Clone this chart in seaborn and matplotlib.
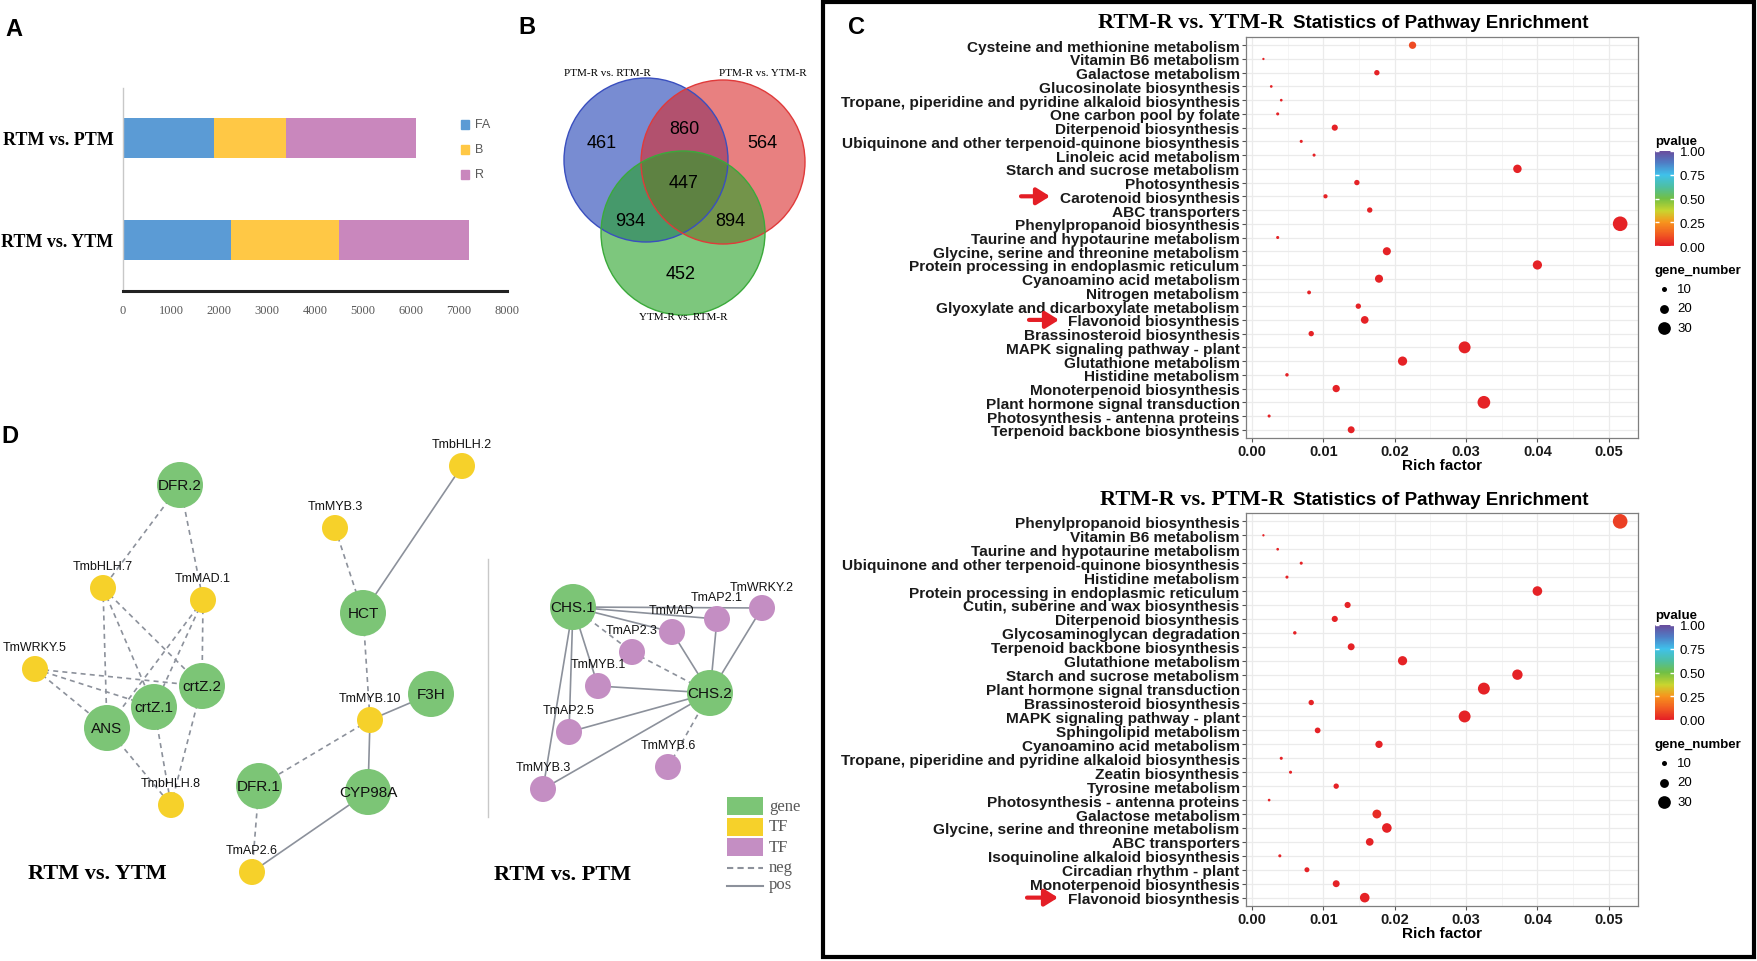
import numpy as np
import pandas as pd
import matplotlib
matplotlib.use("Agg")
import matplotlib.pyplot as plt
import matplotlib.transforms as mtransforms
import seaborn as sns
from matplotlib.colors import LinearSegmentedColormap, Normalize
from matplotlib.cm import ScalarMappable
from matplotlib.patches import Circle, Rectangle

W, H = 1758, 962
SANS = ["Liberation Sans", "DejaVu Sans"]
SERIF = ["Liberation Serif", "DejaVu Serif"]

# ---------------- panel A data
a_groups = ["RTM vs. PTM", "RTM vs. YTM"]
a_parts = ["FA", "B", "R"]
a_fa = [1900, 2250]
a_b = [1500, 2250]
a_r = [2700, 2700]
a_colors = ["#5B9BD5", "#FFC845", "#C987BD"]

# ---------------- panel B data
venn_sets = ["PTM-R vs. RTM-R", "PTM-R vs. YTM-R", "YTM-R vs. RTM-R"]
venn_only = [461, 564, 452]
venn_pair = [860, 934, 894]   # blue&red, blue&green, red&green
venn_all = 447

# ---------------- panel C data
top_paths = ["Cysteine and methionine metabolism", "Vitamin B6 metabolism", "Galactose metabolism",
             "Glucosinolate biosynthesis", "Tropane, piperidine and pyridine alkaloid biosynthesis",
             "One carbon pool by folate", "Diterpenoid biosynthesis",
             "Ubiquinone and other terpenoid-quinone biosynthesis", "Linoleic acid metabolism",
             "Starch and sucrose metabolism", "Photosynthesis", "Carotenoid biosynthesis",
             "ABC transporters", "Phenylpropanoid biosynthesis", "Taurine and hypotaurine metabolism",
             "Glycine, serine and threonine metabolism", "Protein processing in endoplasmic reticulum",
             "Cyanoamino acid metabolism", "Nitrogen metabolism", "Glyoxylate and dicarboxylate metabolism",
             "Flavonoid biosynthesis", "Brassinosteroid biosynthesis", "MAPK signaling pathway - plant",
             "Glutathione metabolism", "Histidine metabolism", "Monoterpenoid biosynthesis",
             "Plant hormone signal transduction", "Photosynthesis - antenna proteins",
             "Terpenoid backbone biosynthesis"]
top_rich = [0.0225, 0.0016, 0.0175, 0.0027, 0.0041, 0.0036, 0.0116, 0.0069, 0.0087, 0.0372,
            0.0147, 0.0103, 0.0165, 0.0516, 0.0036, 0.0189, 0.0400, 0.0178, 0.0080, 0.0149,
            0.0158, 0.0083, 0.0298, 0.0211, 0.0049, 0.0118, 0.0325, 0.0024, 0.0139]
top_genes = [16, 3, 11, 4, 4, 5, 13, 5, 5, 19, 11, 8, 11, 35, 5, 18, 21, 18, 7, 11,
             17, 11, 28, 21, 6, 16, 30, 5, 15]
top_p = [0.09] + [0.01] * 28

bot_paths = ["Phenylpropanoid biosynthesis", "Vitamin B6 metabolism", "Taurine and hypotaurine metabolism",
             "Ubiquinone and other terpenoid-quinone biosynthesis", "Histidine metabolism",
             "Protein processing in endoplasmic reticulum", "Cutin, suberine and wax biosynthesis",
             "Diterpenoid biosynthesis", "Glycosaminoglycan degradation", "Terpenoid backbone biosynthesis",
             "Glutathione metabolism", "Starch and sucrose metabolism", "Plant hormone signal transduction",
             "Brassinosteroid biosynthesis", "MAPK signaling pathway - plant", "Sphingolipid metabolism",
             "Cyanoamino acid metabolism", "Tropane, piperidine and pyridine alkaloid biosynthesis",
             "Zeatin biosynthesis", "Tyrosine metabolism", "Photosynthesis - antenna proteins",
             "Galactose metabolism", "Glycine, serine and threonine metabolism", "ABC transporters",
             "Isoquinoline alkaloid biosynthesis", "Circadian rhythm - plant", "Monoterpenoid biosynthesis",
             "Flavonoid biosynthesis"]
bot_rich = [0.0516, 0.0016, 0.0036, 0.0069, 0.0049, 0.0400, 0.0134, 0.0116, 0.0060, 0.0139,
            0.0211, 0.0372, 0.0325, 0.0083, 0.0298, 0.0092, 0.0178, 0.0041, 0.0054, 0.0118,
            0.0024, 0.0175, 0.0189, 0.0165, 0.0039, 0.0077, 0.0118, 0.0158]
bot_genes = [35, 3, 4, 5, 5, 22, 13, 13, 6, 15, 21, 24, 28, 11, 28, 12, 16, 5, 5, 11,
             4, 20, 22, 17, 5, 10, 15, 22]
bot_p = [0.07] + [0.01] * 20 + [0.03] + [0.01] * 6

# ---------------- panel D data (network layout)
node_names = ["DFR.2", "TmbHLH.7", "TmMAD.1", "TmWRKY.5", "crtZ.2", "crtZ.1", "ANS", "TmbHLH.8",
              "TmMYB.3", "HCT", "TmbHLH.2", "TmMYB.10", "F3H", "DFR.1", "CYP98A", "TmAP2.6",
              "CHS.1", "CHS.2", "TmMAD", "TmAP2.1", "TmWRKY.2", "TmAP2.3", "TmMYB.1", "TmAP2.5",
              "TmMYB.6", "TmMYB.3b"]
node_kind = ["gene", "tf", "tf", "tf", "gene", "gene", "gene", "tf",
             "tf", "gene", "tf", "tf", "gene", "gene", "gene", "tf",
             "gene", "gene", "tf2", "tf2", "tf2", "tf2", "tf2", "tf2", "tf2", "tf2"]
node_x = [180, 103, 203, 35, 202, 154, 107, 171, 335, 363, 462, 370, 431, 259, 368, 252,
          573, 710, 672, 717, 762, 632, 598, 569, 668, 543]
node_y = [486, 589, 601, 670, 687, 708, 729, 806, 529, 614, 467, 721, 695, 787, 793, 873,
          608, 694, 633, 620, 609, 653, 687, 733, 768, 790]
edges = [("DFR.2", "TmbHLH.7", "neg"), ("DFR.2", "TmMAD.1", "neg"), ("TmbHLH.7", "ANS", "neg"),
         ("TmbHLH.7", "crtZ.1", "neg"), ("TmbHLH.7", "crtZ.2", "neg"), ("TmMAD.1", "crtZ.2", "neg"),
         ("TmMAD.1", "ANS", "neg"), ("TmMAD.1", "crtZ.1", "neg"), ("TmWRKY.5", "crtZ.2", "neg"),
         ("TmWRKY.5", "crtZ.1", "neg"), ("TmWRKY.5", "ANS", "neg"), ("ANS", "TmbHLH.8", "neg"),
         ("crtZ.1", "TmbHLH.8", "neg"), ("crtZ.2", "TmbHLH.8", "neg"),
         ("TmMYB.3", "HCT", "neg"), ("HCT", "TmbHLH.2", "pos"), ("HCT", "TmMYB.10", "neg"),
         ("TmMYB.10", "F3H", "pos"), ("TmMYB.10", "CYP98A", "pos"), ("TmMYB.10", "DFR.1", "neg"),
         ("DFR.1", "TmAP2.6", "neg"), ("CYP98A", "TmAP2.6", "pos"),
         ("CHS.1", "TmAP2.1", "pos"), ("CHS.1", "TmWRKY.2", "pos"), ("CHS.1", "TmMAD", "pos"),
         ("CHS.1", "TmAP2.3", "neg"), ("CHS.1", "TmMYB.1", "pos"), ("CHS.1", "TmAP2.5", "pos"),
         ("CHS.1", "TmMYB.3b", "pos"), ("TmAP2.3", "CHS.2", "neg"), ("TmMAD", "CHS.2", "pos"),
         ("TmAP2.1", "CHS.2", "pos"), ("TmWRKY.2", "CHS.2", "pos"), ("TmMYB.1", "CHS.2", "pos"),
         ("TmAP2.5", "CHS.2", "pos"), ("TmMYB.3b", "CHS.2", "pos"), ("TmMYB.6", "CHS.2", "neg")]
kind_colors = {"gene": "#7CC576", "tf": "#F6D12A", "tf2": "#C48EC3"}

plt.rcParams["font.family"] = SANS

fig = plt.figure(figsize=(W / 100, H / 100), dpi=100)
ov = fig.add_axes([0, 0, 1, 1])
ov.set_xlim(0, W)
ov.set_ylim(H, 0)
ov.axis("off")


def px_axes(l, t, r, b):
    return fig.add_axes([l / W, 1 - b / H, (r - l) / W, (b - t) / H])


for lab, x, y in [("A", 14, 30), ("B", 527, 28), ("C", 857, 27), ("D", 10, 437)]:
    ov.text(x, y, lab, fontsize=17, fontweight="bold", ha="center", va="center")

# ================= A: stacked bars
axA = px_axes(123, 89, 507, 292)
ypos = np.arange(len(a_groups))
left = np.zeros(len(a_groups))
for vals, col in zip([a_fa, a_b, a_r], a_colors):
    axA.barh(ypos, vals, left=left, height=0.39, color=col, linewidth=0)
    left = left + np.array(vals)
axA.set_xlim(0, 8000)
axA.set_ylim(1.5, -0.49)
xt = np.arange(0, 8001, 1000)
axA.set_xticks(xt)
axA.set_xticklabels([str(v) for v in xt], family=SERIF, fontsize=9, color="#595959")
axA.set_yticks(ypos)
axA.set_yticklabels(a_groups, family=SERIF, fontsize=13, fontweight="bold")
axA.tick_params(length=0)
axA.tick_params(axis="x", pad=9)
axA.tick_params(axis="y", pad=7)
for s in ["top", "right"]:
    axA.spines[s].set_visible(False)
axA.spines["left"].set_color("#C8C8C8")
axA.spines["left"].set_linewidth(1)
axA.spines["bottom"].set_linewidth(2.2)
axA.spines["bottom"].set_color("#222222")
axA.patch.set_alpha(0)
for i, (name, col) in enumerate(zip(a_parts, a_colors)):
    y = 125 + i * 25
    ov.add_patch(Rectangle((461, y - 4.5), 8, 9, color=col))
    ov.text(475, y, name, fontsize=9, color="#595959", va="center")

# ================= B: venn
centers = [(646, 161), (723, 163), (683, 234)]
rad = 82
fills = ["#1E3FB4", "#D92B2B", "#26A326"]
edgec = ["#3A4FBF", "#E03A3A", "#3BAA3B"]
for (cx, cy), fc in zip(centers, fills):
    ov.add_patch(Circle((cx, cy), rad, facecolor=fc, alpha=0.6, edgecolor="none"))
for (cx, cy), ec in zip(centers, edgec):
    ov.add_patch(Circle((cx, cy), rad, facecolor="none", edgecolor=ec, lw=1))
num_pos_only = [(602, 143), (762, 143), (681, 275)]
num_pos_pair = [(684, 129), (630, 221), (730, 222)]
for v, (x, y) in zip(venn_only, num_pos_only):
    ov.text(x, y, str(v), fontsize=13, ha="center", va="center")
for v, (x, y) in zip(venn_pair, num_pos_pair):
    ov.text(x, y, str(v), fontsize=13, ha="center", va="center")
ov.text(684, 183, str(venn_all), fontsize=13, ha="center", va="center")
for name, (x, y) in zip(venn_sets, [(607, 73), (763, 74), (683, 318)]):
    ov.text(x, y, name, family=SERIF, fontsize=8, ha="center", va="center")

# ================= C: enrichment dot plots
ov.add_patch(Rectangle((823, 3), 931, 955, facecolor="none", edgecolor="black", lw=3))

p_cmap = LinearSegmentedColormap.from_list(
    "pv", [(0, "#E41E26"), (0.12, "#F15A22"), (0.25, "#F7941D"), (0.37, "#C9D52F"),
           (0.5, "#72BF44"), (0.62, "#4EBFA0"), (0.75, "#3FC1EB"), (0.88, "#4F7CC4"),
           (1.0, "#6A4C9C")])


def diam(v):
    return max(2.3, 5 + 0.385 * (v - 10))


all_genes = sorted(set(top_genes) | set(bot_genes) | {10, 20, 30})
size_map = {v: (diam(v) * 0.72) ** 2 for v in all_genes}


def dot_panel(box, names, rich, genes, pvals, base_y, title_left):
    ax = px_axes(*box)
    n = len(names)
    df = pd.DataFrame({"row": np.arange(n), "rich": rich, "genes": genes, "pvalue": pvals})
    sns.scatterplot(data=df, x="rich", y="row", hue="pvalue", size="genes", sizes=size_map,
                    palette=p_cmap, hue_norm=(0, 1), linewidth=0, legend=False, ax=ax, zorder=3)
    ax.set_xlim(-0.00084, 0.0541)
    ax.set_ylim(n - 1 + 0.6, -0.6)
    major = [0, 0.01, 0.02, 0.03, 0.04, 0.05]
    ax.set_xticks(major)
    ax.set_xticks([0.005, 0.015, 0.025, 0.035, 0.045], minor=True)
    ax.set_xticklabels([f"{v:.2f}" for v in major], fontsize=10.5, fontweight="bold")
    ax.set_yticks(np.arange(n))
    ax.set_yticklabels(names, fontsize=11.1, fontweight="bold")
    ax.grid(which="major", color="#EBEBEB", lw=0.9)
    ax.grid(which="minor", axis="x", color="#F4F4F4", lw=0.6)
    ax.set_axisbelow(True)
    ax.tick_params(which="major", length=3, color="#555555", width=0.8, pad=1.5, labelcolor="#1A1A1A")
    ax.tick_params(which="minor", length=0)
    for sp in ax.spines.values():
        sp.set_color("#7F7F7F")
        sp.set_linewidth(0.9)
    ax.set_xlabel("Rich factor", fontsize=11, fontweight="bold", labelpad=0)
    ax.set_ylabel("")
    ov.text(1284, base_y, title_left, family=SERIF, fontweight="bold", fontsize=16,
            ha="right", va="baseline")
    ov.text(1293, base_y, "Statistics of Pathway Enrichment", fontsize=13.5, fontweight="bold",
            ha="left", va="baseline")
    return ax


def red_arrow(ax, row, x0, x1):
    trans = mtransforms.blended_transform_factory(ov.transData, ax.transData)
    ax.annotate("", xy=(x1, row), xytext=(x0, row), xycoords=trans, textcoords=trans,
                arrowprops=dict(arrowstyle="-|>,head_length=0.4,head_width=0.25", color="#E41E26",
                                lw=3, shrinkA=0, shrinkB=0, mutation_scale=20),
                annotation_clip=False)


def dot_legend(t):
    ov.text(1655, t, "pvalue", fontsize=9.5, fontweight="bold", va="center")
    cax = px_axes(1655, t + 10, 1674, t + 105)
    cb = fig.colorbar(ScalarMappable(norm=Normalize(0, 1), cmap=p_cmap), cax=cax)
    cb.set_ticks([0, 0.25, 0.5, 0.75, 1.0])
    cb.set_ticklabels(["0.00", "0.25", "0.50", "0.75", "1.00"])
    cb.outline.set_visible(False)
    cax.tick_params(direction="in", color="white", length=3, width=1, left=True, right=True,
                    labelleft=False, labelright=True, labelsize=9.5, pad=4)
    ov.text(1655, t + 129, "gene_number", fontsize=9.5, fontweight="bold", va="center")
    for k, v in enumerate([10, 20, 30]):
        yy = t + 148 + k * 19.5
        ov.scatter([1664], [yy], s=size_map[v], color="black", linewidth=0)
        ov.text(1677, yy, str(v), fontsize=9.5, va="center")


ax_top = dot_panel((1246, 38, 1638, 439), top_paths, top_rich, top_genes, top_p, 28, "RTM-R vs. YTM-R")
ax_bot = dot_panel((1246, 514, 1638, 907), bot_paths, bot_rich, bot_genes, bot_p, 505, "RTM-R vs. PTM-R")
red_arrow(ax_top, top_paths.index("Carotenoid biosynthesis"), 1021, 1050)
red_arrow(ax_top, top_paths.index("Flavonoid biosynthesis"), 1029, 1059)
red_arrow(ax_bot, bot_paths.index("Flavonoid biosynthesis"), 1027, 1058)
dot_legend(142)
dot_legend(616)

# ================= D: networks
pos = {n: (x, y) for n, x, y in zip(node_names, node_x, node_y)}
for a, b, sign in edges:
    (x0, y0), (x1, y1) = pos[a], pos[b]
    ls = (0, (3, 2.5)) if sign == "neg" else "-"
    ov.plot([x0, x1], [y0, y1], color="#8C919B", lw=1.2, ls=ls, zorder=2)
for n, k, x, y in zip(node_names, node_kind, node_x, node_y):
    r = 23 if k == "gene" else 13
    ov.add_patch(Circle((x, y), r, facecolor=kind_colors[k], edgecolor="none", zorder=3))
    label = n[:-1] if n.endswith("3b") else n
    if k == "gene":
        ov.text(x, y, label, fontsize=11, ha="center", va="center", zorder=4, color="#111111")
    else:
        ly = y - 21 if n == "TmWRKY.2" else y - 22
        ov.text(x, ly, label, fontsize=9, ha="center", va="center", zorder=4, color="#111111")
ov.plot([488, 488], [560, 818], color="#C8C8C8", lw=1)
ov.text(97, 874, "RTM vs. YTM", family=SERIF, fontsize=16, fontweight="bold", ha="center", va="center")
ov.text(563, 875, "RTM vs. PTM", family=SERIF, fontsize=16, fontweight="bold", ha="center", va="center")

leg_items = [("gene", kind_colors["gene"]), ("TF", kind_colors["tf"]), ("TF", kind_colors["tf2"])]
for i, (name, col) in enumerate(leg_items):
    yt = 798 + i * 20.5
    ov.add_patch(Rectangle((727, yt), 36, 18, facecolor=col, edgecolor="none"))
    ov.text(769, yt + 9, name, family=SERIF, fontsize=12, color="#595959", va="center")
ov.plot([727, 763], [869, 869], color="#8C919B", lw=1.5, ls=(0, (3, 2)))
ov.plot([727, 763], [887, 887], color="#8C919B", lw=1.5)
ov.text(769, 868, "neg", family=SERIF, fontsize=12, color="#595959", va="center")
ov.text(769, 885, "pos", family=SERIF, fontsize=12, color="#595959", va="center")

fig.savefig("out.png", dpi=100)
